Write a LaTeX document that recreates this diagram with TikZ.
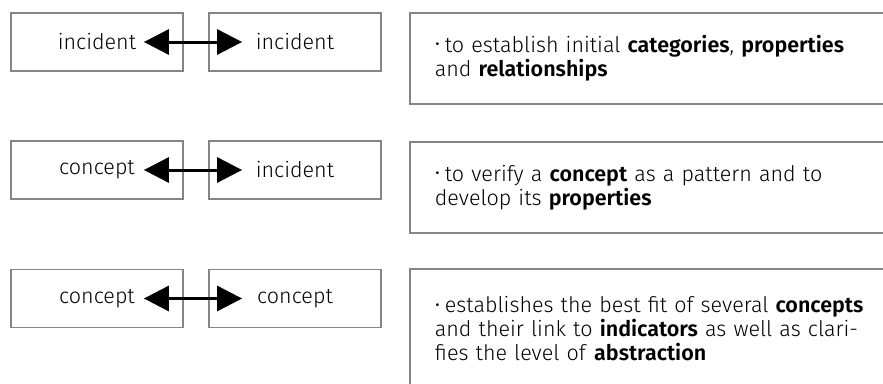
\documentclass[tikz,border=0pt]{standalone}
\usepackage{fontspec}
\setmainfont{Fira Sans Light}[BoldFont={Fira Sans SemiBold}]
\usepackage{xcolor}
\usetikzlibrary{arrows.meta,positioning}
\definecolor{framegray}{HTML}{858585}
\newcommand{\aimpoint}[1]{\noindent\hangindent=10pt\hangafter=1%
  \makebox[10pt][l]{\raisebox{0.08em}{\scalebox{0.85}{•}}}#1}

\begin{document}
\begin{tikzpicture}[
    x=1pt,y=-1pt,
    >={Triangle[length=25pt,width=25pt]},
    item/.style={draw=framegray,line width=1.8pt,minimum width=172pt,
      minimum height=58pt,inner sep=0pt,font=\fontsize{21.5}{24}\selectfont},
    aim/.style={draw=framegray,line width=1.8pt,anchor=north west,
      inner xsep=25pt,inner ysep=0pt,text width=480pt,align=left,
      font=\fontsize{21.5}{24}\selectfont},
    link/.style={<->,line width=3pt,shorten <=-40pt,shorten >=-34pt},
  ]
    \useasboundingbox (0,0) rectangle (883,383);

    \node[item] (from1) at (97,42) {incident};
    \node[item] (to1) at (295,42) {incident};
    \node[aim,minimum height=91pt] (aim1) at (409,12)
      {\aimpoint{to establish initial \textbf{categories}, \textbf{properties}\newline
       and \textbf{relationships}}};
    \draw[link] (from1) -- (to1);

    \node[item] (from2) at (97,170) {concept};
    \node[item] (to2) at (295,170) {incident};
    \node[aim,minimum height=91pt] (aim2) at (409,141)
      {\aimpoint{to verify a \textbf{concept} as a pattern and to\newline
       develop its \textbf{properties}}};
    \draw[link] (from2) -- (to2);

    \node[item] (from3) at (97,298.5) {concept};
    \node[item] (to3) at (295,298.5) {concept};
    \node[aim,minimum height=120pt] (aim3) at (409,268)
      {\aimpoint{establishes the best fit of several \textbf{concepts}\newline
       and their link to \textbf{indicators} as well as clari-\newline
       fies the level of \textbf{abstraction}}};
    \draw[link] (from3) -- (to3);
  \end{tikzpicture}
\end{document}
